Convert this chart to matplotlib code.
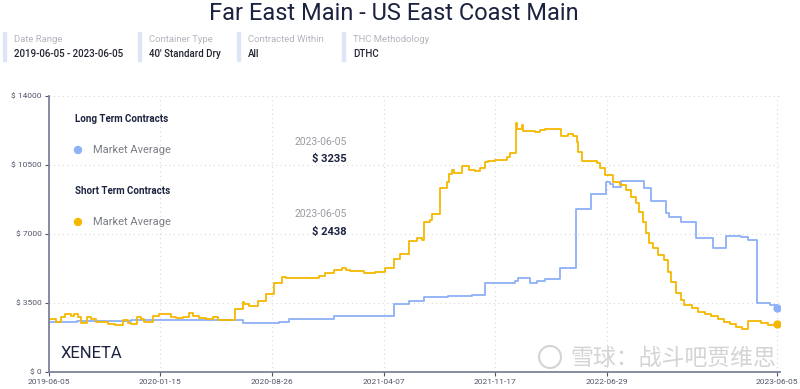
import pandas as pd
import numpy as np
import matplotlib.pyplot as plt
from matplotlib.patches import Rectangle, Ellipse

plt.rcParams['font.family'] = ['Roboto', 'DejaVu Sans']

start = pd.Timestamp('2019-06-05')

# short term contracts, days since start / USD
short_days = [0, 15, 24, 32, 45, 50, 59, 65, 77, 85, 95, 119, 132, 149, 159, 165, 177, 185, 192,
              209, 222, 245, 255, 270, 281, 289, 302, 315, 329, 339, 374, 389, 392, 402, 420, 435,
              451, 467, 475, 505, 542, 555, 572, 589, 597, 605, 632, 655, 675, 692, 705, 722, 739,
              749, 752, 765, 769, 784, 799, 802, 809, 812, 829, 843, 855, 865, 875, 882, 895, 919,
              925, 937, 939, 949, 952, 975, 985, 995, 1027, 1042, 1052, 1059, 1062, 1070, 1099,
              1105, 1115, 1132, 1145, 1159, 1169, 1179, 1185, 1192, 1199, 1205, 1212, 1222, 1235,
              1242, 1249, 1259, 1269, 1275, 1290, 1302, 1316, 1329, 1342, 1355, 1367, 1379, 1390,
              1403, 1429, 1442, 1461]
short_vals = [2670, 2520, 2800, 2925, 2840, 2940, 2800, 2500, 2800, 2700, 2550, 2420, 2370, 2630,
              2480, 2420, 2800, 2680, 2550, 2860, 2925, 2800, 2720, 2800, 2970, 2850, 2750, 2670,
              2800, 2630, 3170, 3560, 3450, 3330, 3600, 3960, 4500, 4800, 4750, 4780, 4850, 5000,
              5170, 5260, 5160, 5140, 5000, 5080, 5260, 5710, 5980, 6640, 6780, 6700, 7620, 7700,
              7990, 9310, 9650, 10070, 10270, 10100, 10440, 10240, 10200, 10350, 10660, 10710,
              10750, 10920, 11120, 12640, 12350, 12520, 12240, 12180, 12300, 12350, 11950, 12060,
              11950, 11680, 11170, 10710, 10610, 10330, 9990, 9650, 9480, 9230, 8890, 8550, 8130,
              7620, 7030, 6520, 6270, 5930, 5680, 5090, 4580, 3990, 3650, 3400, 3250, 3060, 2950,
              2840, 2700, 2550, 2420, 2300, 2200, 2600, 2470, 2380, 2438]

# long term contracts
long_days = [0, 57, 165, 389, 462, 482, 572, 692, 722, 752, 800, 850, 875, 935, 942, 965, 980,
             995, 1025, 1057, 1087, 1117, 1125, 1132, 1149, 1194, 1209, 1239, 1245, 1269, 1299,
             1332, 1359, 1389, 1402, 1420, 1447, 1461]
long_vals = [2550, 2600, 2650, 2500, 2550, 2670, 2840, 3450, 3600, 3820, 3870, 3920, 4500, 4600,
             4750, 4530, 4630, 4720, 5260, 8260, 9010, 9620, 9520, 9400, 9680, 9340, 8670, 8080,
             7870, 7620, 6810, 6300, 6910, 6850, 6690, 3480, 3400, 3235]

yticks = [0, 3500, 7000, 10500, 14000]
xtick_days = [0, 224, 448, 672, 896, 1120, 1461]

BLUE = '#8db0f7'
YELLOW = '#f4b800'
NAVY = '#1c2340'

short_x = start + pd.to_timedelta(short_days, unit='D')
long_x = start + pd.to_timedelta(long_days, unit='D')

fig = plt.figure(figsize=(8, 3.89), dpi=100)
ax = fig.add_axes([0.061, 0.044, 0.914, 0.709])

ax.plot(long_x, long_vals, drawstyle='steps-post', color=BLUE, lw=1.3)
ax.plot(short_x, short_vals, drawstyle='steps-post', color=YELLOW, lw=1.3)
ax.plot(long_x[-1], long_vals[-1], 'o', color=BLUE, ms=5)
ax.plot(short_x[-1], short_vals[-1], 'o', color=YELLOW, ms=5)

ax.set_ylim(0, 14000)
ax.set_xlim(start, start + pd.Timedelta(days=1467))
ax.set_yticks(yticks)
ax.set_yticklabels([f'$ {v}' for v in yticks])
xt = start + pd.to_timedelta(xtick_days, unit='D')
ax.set_xticks(xt)
ax.set_xticklabels([d.strftime('%Y-%m-%d') for d in xt])
ax.tick_params(labelsize=6, colors='#50556a', length=3, width=0.8, pad=2)
ax.grid(True, ls=(0, (1, 3)), color='#d8d8d8', lw=0.8)
for s in ['top', 'right']:
    ax.spines[s].set_visible(False)
for s in ['left', 'bottom']:
    ax.spines[s].set_color('#7d8298')
    ax.spines[s].set_linewidth(1.3)

W, H = 800, 389
def ft(x, y, s, **kw):
    fig.text(x / W, 1 - y / H, s, **kw)

def dot(x, y, r, **kw):
    fig.patches.append(Ellipse((x / W, 1 - y / H), 2 * r / W, 2 * r / H,
                               transform=fig.transFigure, **kw))

ft(394, 13, 'Far East Main - US East Coast Main', fontsize=17, color=NAVY, ha='center', va='center')

headers = [(3, 'Date Range', '2019-06-05 - 2023-06-05'),
           (138, 'Container Type', "40' Standard Dry"),
           (237, 'Contracted Within', 'All'),
           (342, 'THC Methodology', 'DTHC')]
for x, lab, val in headers:
    fig.patches.append(Rectangle((x / W, 1 - 61 / H), 2.5 / W, 29 / H, transform=fig.transFigure,
                                 color='#dde6f7'))
    ft(x + 11, 40, lab, fontsize=6.8, color='#b2b5bd', va='center')
    ft(x + 11, 54, val, fontsize=7, color='#222430', va='center', weight='medium')

ft(75, 119, 'Long Term Contracts', fontsize=7, weight='bold', color=NAVY, va='center')
ft(75, 191, 'Short Term Contracts', fontsize=7, weight='bold', color=NAVY, va='center')
dot(78, 150, 3.5, color=BLUE)
dot(78, 222, 3.5, color=YELLOW)
ft(93, 150, 'Market Average', fontsize=8, color='#7b7e86', va='center')
ft(93, 222, 'Market Average', fontsize=8, color='#7b7e86', va='center')

ft(347, 142, '2023-06-05', fontsize=7.5, color='#9a9ca3', ha='right', va='center')
ft(347, 159, f'$ {long_vals[-1]}', fontsize=8, weight='bold', color=NAVY, ha='right', va='center')
ft(347, 214, '2023-06-05', fontsize=7.5, color='#9a9ca3', ha='right', va='center')
ft(347, 232, f'$ {short_vals[-1]}', fontsize=8, weight='bold', color=NAVY, ha='right', va='center')

ft(61, 353, 'XENETA', fontsize=12, color=NAVY, va='center')

# watermark
dot(550, 357, 11, fill=False, ec='#d4d4d4', lw=1.5)
ft(570, 358, '雪球：战斗吧贾维思', fontsize=16.5, color='#d4d4d4', va='center',
   family=['Noto Sans CJK SC', 'DejaVu Sans'])

fig.savefig('out.png', dpi=100)
